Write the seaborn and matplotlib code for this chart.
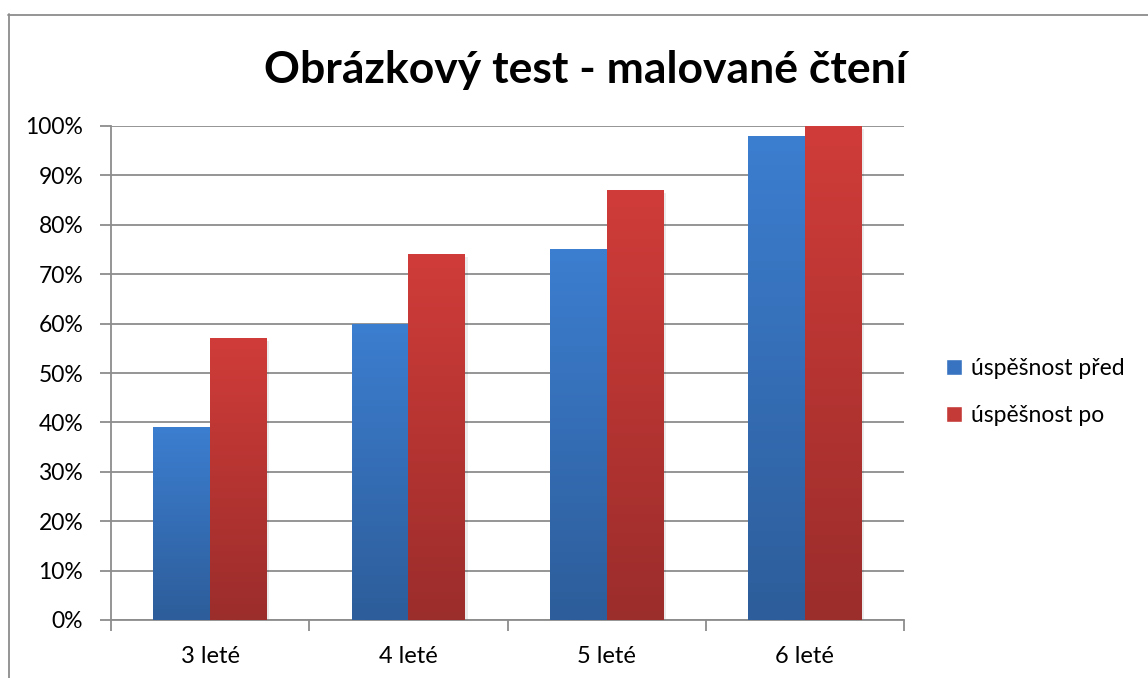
import numpy as np
import pandas as pd
import matplotlib
matplotlib.use('Agg')
import matplotlib.pyplot as plt
import matplotlib.patches as mpatches
from matplotlib.colors import LinearSegmentedColormap
from matplotlib.lines import Line2D
import seaborn as sns

# data
kategorie = ['3 leté', '4 leté', '5 leté', '6 leté']
pred = [39, 60, 75, 98]
po = [57, 74, 87, 100]
serie = ['úspěšnost před', 'úspěšnost po']

df = pd.DataFrame({
    'vek': kategorie * 2,
    'hodnota': pred + po,
    'serie': [serie[0]] * 4 + [serie[1]] * 4,
})

sns.set_style('white')
plt.rcParams['font.family'] = ['Lato', 'DejaVu Sans']
plt.rcParams['text.color'] = 'black'
plt.rcParams['xtick.labelcolor'] = 'black'
plt.rcParams['ytick.labelcolor'] = 'black'

fig = plt.figure(figsize=(11.48, 6.78), dpi=100)
ax = fig.add_axes([111 / 1148, 1 - 620 / 678, (904 - 111) / 1148, (620 - 126) / 678])

barvy = {serie[0]: ('#3c7ed0', '#2d5d9a'), serie[1]: ('#d03c39', '#9b2d2b')}
sns.barplot(data=df, x='vek', y='hodnota', hue='serie', order=kategorie,
            hue_order=serie, palette=['#3a75c4', '#c0392b'], width=0.573,
            ax=ax, legend=False, errorbar=None)

# gradient fill of each bar
grad = np.linspace(1, 0, 256).reshape(-1, 1)
for cont, s in zip(ax.containers, serie):
    cmap = LinearSegmentedColormap.from_list(s, [barvy[s][1], barvy[s][0]])
    for bar in cont:
        x0, y0 = bar.get_x(), bar.get_y()
        w, h = bar.get_width(), bar.get_height()
        # soft shadow
        ax.add_patch(mpatches.Rectangle((x0 + 0.012, y0 - 0.6), w, h, color='#000000',
                                        alpha=0.08, lw=0, zorder=2))
        im = ax.imshow(grad, cmap=cmap, aspect='auto', extent=(x0, x0 + w, y0, y0 + h),
                       zorder=3, interpolation='bilinear')
        im.set_clip_path(bar)
        bar.set_facecolor('none')
        bar.set_edgecolor('none')

ax.set_xlim(-0.5, 3.5)
ax.set_ylim(0, 100)
ax.set_yticks(np.arange(0, 101, 10))
ax.set_yticklabels([f'{v}%' for v in range(0, 101, 10)], fontsize=16.5)
ax.yaxis.grid(True, color='#8c8c8c', lw=1.3)
ax.set_axisbelow(True)
ax.tick_params(axis='y', length=8, width=1.3, color='#8c8c8c', left=True, pad=12)
ax.set_xticks(range(4))
ax.set_xticklabels(kategorie, fontsize=17)
ax.set_xticks(np.arange(-0.5, 4, 1), minor=True)
ax.tick_params(axis='x', which='major', length=0, pad=19)
ax.tick_params(axis='x', which='minor', length=8, width=1.3, color='#8c8c8c', bottom=True)
ax.set_xlabel('')
ax.set_ylabel('')
for side in ['top', 'right']:
    ax.spines[side].set_visible(False)
for side in ['left', 'bottom']:
    ax.spines[side].set_color('#8c8c8c')
    ax.spines[side].set_linewidth(1.3)

fig.text(585 / 1148, 1 - 70 / 678, 'Obrázkový test - malované čtení', ha='center', va='center',
         fontsize=32, fontweight='bold')

handles = [mpatches.Patch(facecolor='#3773c0', label=serie[0]),
           mpatches.Patch(facecolor='#c43a36', label=serie[1])]
fig.legend(handles=handles, loc='center left', bbox_to_anchor=(925 / 1148, 1 - 392 / 678),
           frameon=False, fontsize=16.5, handlelength=0.7, handleheight=0.7,
           handletextpad=0.4, labelspacing=1.15)

# outer chart border (top and left only visible)
fig.add_artist(Line2D([8 / 1148, 1], [1 - 14.5 / 678] * 2, color='#8c8c8c', lw=1.3))
fig.add_artist(Line2D([8.5 / 1148] * 2, [0, 1 - 14 / 678], color='#8c8c8c', lw=1.3))

fig.savefig('out.png', dpi=100)
